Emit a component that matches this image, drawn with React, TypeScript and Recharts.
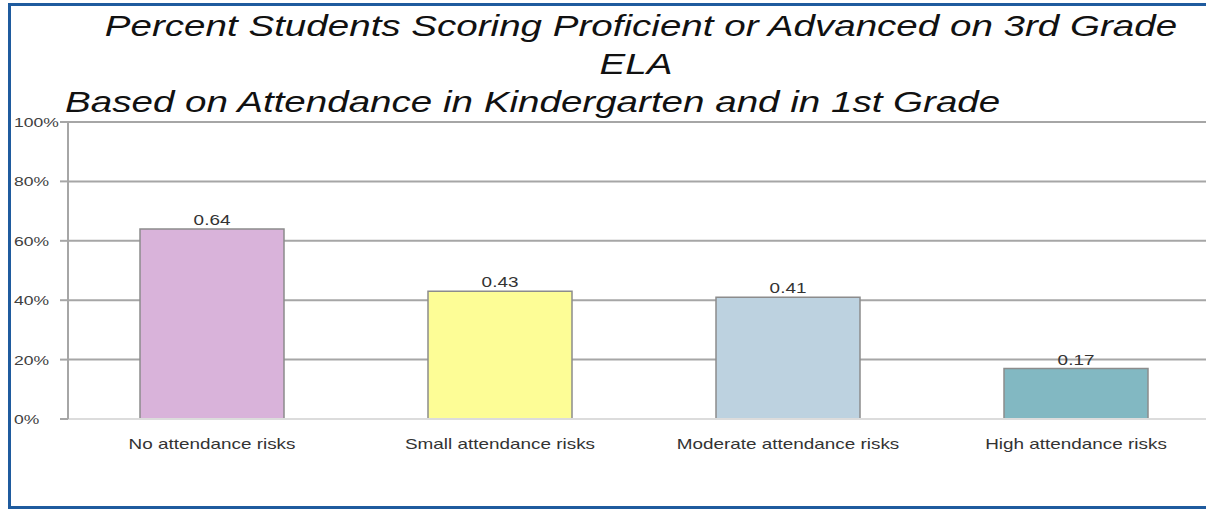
import React from "react";
import { BarChart, Bar, XAxis, YAxis, CartesianGrid, Cell, LabelList } from "recharts";

const categories = [
  "No attendance risks",
  "Small attendance risks",
  "Moderate attendance risks",
  "High attendance risks",
];
const proficientShare = [0.64, 0.43, 0.41, 0.17];
const barColors = ["#d9b3da", "#fdfd96", "#bdd2e0", "#82b8c2"];
const yTicks = [0, 0.2, 0.4, 0.6, 0.8, 1];

const titleLines = [
  "Percent Students Scoring Proficient or Advanced on 3rd Grade",
  "ELA",
  "Based on Attendance in Kindergarten and in 1st Grade",
];

const data = categories.map((name, i) => ({ name, value: proficientShare[i] }));

// the whole graphic is a bit wide, so all text gets the same horizontal stretch
const SX = 1.35;
const TITLE_SX = 1.33;
const FONT = "'Liberation Sans', Arial, sans-serif";

function YTick({ y, payload }: any) {
  return (
    <text
      transform={`translate(14,${y + 5}) scale(${SX},1)`}
      fontSize={13}
      fontFamily={FONT}
      fill="#404040"
      textAnchor="start"
    >
      {Math.round(payload.value * 100) + "%"}
    </text>
  );
}

function XTick({ x, y, payload }: any) {
  return (
    <text
      transform={`translate(${x},${y + 22}) scale(${SX},1)`}
      fontSize={14}
      fontFamily={FONT}
      fill="#333333"
      textAnchor="middle"
    >
      {payload.value}
    </text>
  );
}

function ValueLabel({ x, y, width, value }: any) {
  return (
    <text
      transform={`translate(${x + width / 2},${y - 4}) scale(${SX},1)`}
      fontSize={14}
      fontFamily={FONT}
      fill="#333333"
      textAnchor="middle"
    >
      {value}
    </text>
  );
}

function TitleLine({ x, y, anchor, children }: any) {
  return (
    <text
      transform={`translate(${x},${y}) scale(${TITLE_SX},1)`}
      fontSize={29}
      fontStyle="italic"
      fontFamily={FONT}
      fill="#111111"
      textAnchor={anchor}
    >
      {children}
    </text>
  );
}

export default function App() {
  return (
    <div
      style={{
        position: "fixed",
        left: 0,
        top: 0,
        width: 1206,
        height: 509,
        overflow: "hidden",
        background: "#ffffff",
      }}
    >
      <div
        style={{
          position: "absolute",
          left: 8,
          top: 3,
          width: 1240,
          height: 500,
          borderLeft: "3px solid #1f5b9e",
          borderTop: "3px solid #1f5b9e",
          borderBottom: "3px solid #1f5b9e",
        }}
      />
      <div style={{ position: "absolute", left: 0, top: 0 }}>
        <BarChart
          width={1240}
          height={509}
          data={data}
          margin={{ top: 122, right: 20, bottom: 60, left: 8 }}
          barCategoryGap="25%"
        >
          <CartesianGrid vertical={false} stroke="#a6a6a6" strokeWidth={2} />
          <XAxis
            dataKey="name"
            height={30}
            tick={<XTick />}
            tickLine={false}
            axisLine={{ stroke: "#dcdcdc", strokeWidth: 2 }}
            interval={0}
          />
          <YAxis
            width={60}
            domain={[0, 1]}
            ticks={yTicks}
            tick={<YTick />}
            tickSize={8}
            tickLine={{ stroke: "#a6a6a6", strokeWidth: 2 }}
            axisLine={{ stroke: "#a6a6a6", strokeWidth: 2 }}
          />
          <Bar dataKey="value" stroke="#8c8c8c" strokeWidth={1.5} isAnimationActive={false}>
            {data.map((_, i) => (
              <Cell key={i} fill={barColors[i]} />
            ))}
            <LabelList dataKey="value" content={<ValueLabel />} />
          </Bar>
        </BarChart>
      </div>
      <svg
        width={1206}
        height={130}
        style={{ position: "absolute", left: 0, top: 0, pointerEvents: "none" }}
      >
        <TitleLine x={641} y={36} anchor="middle">
          {titleLines[0]}
        </TitleLine>
        <TitleLine x={636} y={74} anchor="middle">
          {titleLines[1]}
        </TitleLine>
        <TitleLine x={65} y={112} anchor="start">
          {titleLines[2]}
        </TitleLine>
      </svg>
    </div>
  );
}
